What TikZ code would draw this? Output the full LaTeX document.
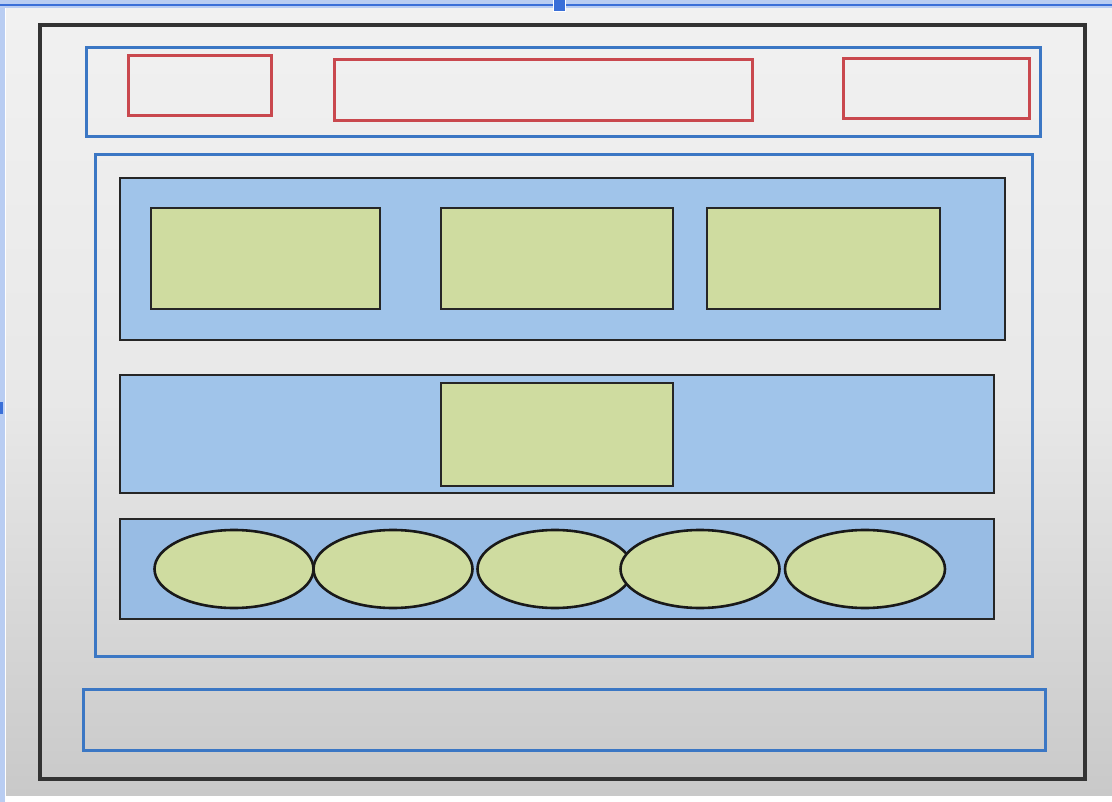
\documentclass[tikz,border=0pt]{standalone}
\usetikzlibrary{shapes.geometric}
\definecolor{selblue}{HTML}{3A6FD8}
\definecolor{sellight}{HTML}{B9CDF2}
\definecolor{frameblue}{HTML}{3B77C4}
\definecolor{framered}{HTML}{C9484E}
\definecolor{rowblue}{HTML}{A0C4EA}
\definecolor{rowblue2}{HTML}{98BCE4}
\definecolor{leafgreen}{HTML}{CFDCA0}
\definecolor{bgtop}{HTML}{F1F1F1}
\definecolor{bgmid}{HTML}{E8E8E8}
\definecolor{bgbot}{HTML}{C9C9C9}
\tikzset{
  px/.style={x=1pt,y=-1pt},
  redbox/.style={draw=framered,line width=3pt,rectangle,inner sep=0pt,outer sep=0pt},
  bluebox/.style={draw=frameblue,line width=3pt,rectangle,inner sep=0pt,outer sep=0pt},
  rowbox/.style={draw=black!85,line width=2.6pt,fill=rowblue,rectangle,inner sep=0pt,outer sep=0pt},
  greenbox/.style={draw=black!85,line width=2.6pt,fill=leafgreen,rectangle,inner sep=0pt,outer sep=0pt},
  greenell/.style={draw=black!90,line width=2.6pt,fill=leafgreen,ellipse,inner sep=0pt,outer sep=0pt,minimum width=159pt,minimum height=78pt},
  outerframe/.style={draw=black!80,line width=3.5pt,rectangle,inner sep=0pt,outer sep=0pt}
}
\begin{document}
\begin{tikzpicture}[px]
\useasboundingbox (0,0) rectangle (1112,802);
\fill[white] (0,0) rectangle (1112,802);
% screen background
\shade[top color=bgtop,bottom color=bgbot,middle color=bgmid] (6,8) rectangle (1112,795);
% selection marks
\fill[sellight] (0,0) rectangle (1112,8);
\fill[sellight] (0,0) rectangle (5,802);
\draw[selblue,line width=1.5pt] (0,5) -- (1112,5);
\node[fill=selblue,draw=white,line width=0.6pt,minimum width=12pt,minimum height=12pt,inner sep=0pt] (handle) at (559,5) {};
\node[fill=selblue,minimum width=3pt,minimum height=12pt,inner sep=0pt,anchor=west] (lhandle) at (0,408) {};
% outer frame
\node[outerframe,minimum width=1045pt,minimum height=754pt] (outer) at (562.5,402) {};
% header
\node[bluebox,minimum width=954pt,minimum height=89pt] (header) at (563,92.5) {};
\node[redbox,minimum width=143pt,minimum height=60pt] (r1) at (199.5,86) {};
\node[redbox,minimum width=418pt,minimum height=61pt] (r2) at (543,90.5) {};
\node[redbox,minimum width=186pt,minimum height=60pt] (r3) at (936,89) {};
% main area
\node[bluebox,minimum width=937pt,minimum height=501pt] (main) at (563.5,405.5) {};
% row 1
\node[rowbox,minimum width=885pt,minimum height=162pt] (row1) at (562.5,259) {};
\node[greenbox,minimum width=229pt,minimum height=101pt] (g1) at (265.5,258.5) {};
\node[greenbox,minimum width=232pt,minimum height=101pt] (g2) at (557,258.5) {};
\node[greenbox,minimum width=233pt,minimum height=101pt] (g3) at (823.5,258.5) {};
% row 2
\node[rowbox,minimum width=874pt,minimum height=118pt] (row2) at (557,434) {};
\node[greenbox,minimum width=232pt,minimum height=103pt] (g4) at (557,434.5) {};
% row 3
\node[rowbox,fill=rowblue2,minimum width=874pt,minimum height=100pt] (row3) at (557,569) {};
\node[greenell] (e1) at (234,569) {};
\node[greenell] (e2) at (393,569) {};
\node[greenell,minimum width=155pt] (e3) at (555,569) {};
\node[greenell] (e4) at (700,569) {};
\node[greenell,minimum width=160pt] (e5) at (865,569) {};
% footer
\node[bluebox,minimum width=962pt,minimum height=61pt] (footer) at (564,719.5) {};
\end{tikzpicture}
\end{document}
